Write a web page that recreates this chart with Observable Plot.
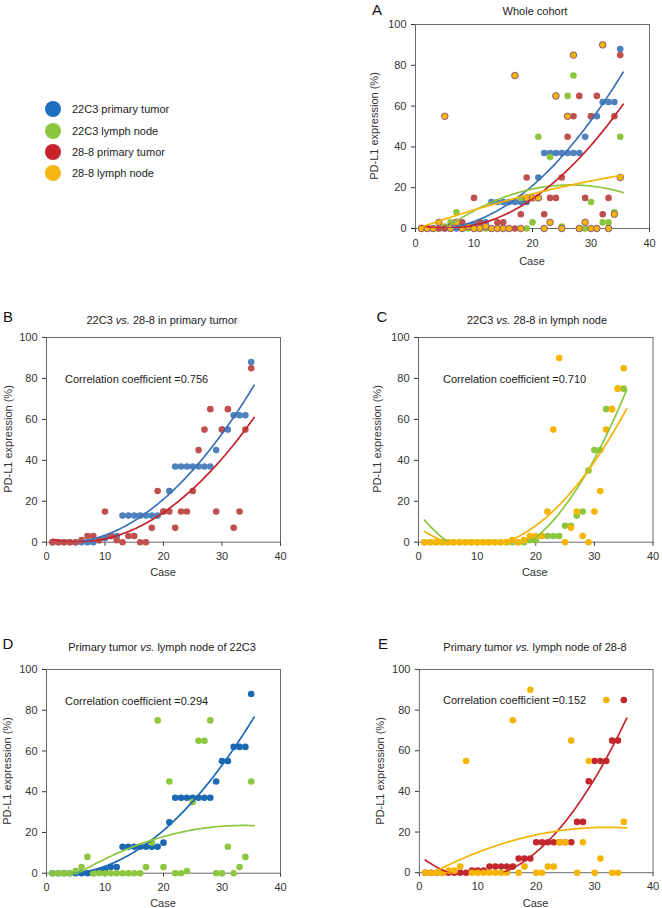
<!DOCTYPE html>
<html>
<head>
<meta charset="utf-8">
<script src="https://cdn.jsdelivr.net/npm/d3@7"></script>
<script src="https://cdn.jsdelivr.net/npm/@observablehq/plot@0.6"></script>
<style>
  body { margin: 0; background: #fff; }
  #wrap { position: relative; width: 662px; height: 908px; background: #fff; overflow: hidden;
          font-family: "Liberation Sans", Arial, Helvetica, sans-serif; color: #222; }
  .t { position: absolute; white-space: nowrap; line-height: 1; }
  .panel { position: absolute; }
</style>
</head>
<body>
<div id="wrap"></div>
<script>
// ---------------- data ----------------
const cases = [1,2,3,4,5,6,7,8,9,10,11,12,13,14,15,16,17,18,19,20,21,22,23,24,25,26,27,28,29,30,31,32,33,34,35];

// Panel A (whole cohort, cases ordered by 22C3 primary tumor)
const A_pt22C3 = [0,0,0,0,0,0,0,0,1,2,3,3,13,13,13,13,13,13,13,15,25,37,37,37,37,37,37,37,45,55,55,62,62,62,88];
const A_ln22C3 = [0,0,0,0,1,3,8,0,0,0,0,0,0,0,0,0,75,15,0,3,45,0,35,65,1,65,75,0,0,13,0,3,3,8,45];
const A_pt288  = [0,0,0,0,0,1,3,3,1,15,3,1,0,3,3,0,0,7,25,15,15,7,15,15,25,45,55,65,15,55,65,7,15,55,85];
const A_ln288  = [0,0,0,3,55,0,3,0,1,0,0,1,0,0,0,0,75,0,15,15,15,0,3,65,0,55,85,0,3,0,0,90,0,7,25];

// Panel B (22C3 vs 28-8 in primary tumor)
const B_22C3 = [0,0,0,0,0,0,0,0,1,2,3,3,13,13,13,13,13,13,13,15,25,37,37,37,37,37,37,37,45,55,55,62,62,62,88];
const B_288  = [0,0,0,0,0,1,3,3,1,15,3,1,0,3,3,0,0,7,25,15,15,7,15,15,25,45,55,65,15,55,65,7,15,55,85];

// Panel C (22C3 vs 28-8 in lymph node)
const C_22C3 = [0,0,0,0,0,0,0,0,0,0,0,0,0,0,0,0,0,0,1,1,3,3,3,3,8,8,13,15,35,45,45,65,65,75,75];
const C_288  = [0,0,0,0,0,0,0,0,0,0,0,0,0,0,0,1,0,1,3,3,3,15,55,90,0,7,15,3,0,15,25,55,65,75,85];

// Panel D (primary tumor vs lymph node of 22C3)
const D_pt = [0,0,0,0,0,0,0,0,1,2,3,3,13,13,13,13,13,13,13,15,25,37,37,37,37,37,37,37,45,55,55,62,62,62,88];
const D_ln = [0,0,0,0,1,3,8,0,0,0,0,0,0,0,0,0,3,15,75,3,45,0,0,1,35,65,65,75,0,0,13,0,3,8,45];

// Panel E (primary tumor vs lymph node of 28-8)
const E_pt = [0,0,0,0,0,0,0,0,1,1,1,3,3,3,3,3,7,7,7,15,15,15,15,15,15,15,25,25,45,55,55,55,65,65,85];
const E_ln = [0,0,0,0,1,1,3,55,0,0,0,0,0,0,0,75,0,3,90,0,0,3,3,15,15,65,0,15,55,0,7,85,0,0,25];

const xTicks = [0,10,20,30,40];
const yTicks = [0,20,40,60,80,100];

const legendItems = ["22C3 primary tumor","22C3 lymph node","28-8 primary tumor","28-8 lymph node"];
const legendColors = ["#1f6fbf","#8cc63f","#c8232b","#f6b512"];

// ---------------- helpers ----------------
const FONT = '"Liberation Sans", Arial, Helvetica, sans-serif';
const wrap = document.getElementById("wrap");

function quadFit(xs, ys) {
  let s = [0,0,0,0,0], t = [0,0,0];
  for (let i = 0; i < xs.length; i++) {
    const x = xs[i], y = ys[i];
    let p = 1;
    for (let k = 0; k <= 4; k++) { s[k] += p; if (k <= 2) t[k] += p * y; p *= x; }
  }
  const M = [[s[0],s[1],s[2]],[s[1],s[2],s[3]],[s[2],s[3],s[4]]];
  const det = m => m[0][0]*(m[1][1]*m[2][2]-m[1][2]*m[2][1]) - m[0][1]*(m[1][0]*m[2][2]-m[1][2]*m[2][0]) + m[0][2]*(m[1][0]*m[2][1]-m[1][1]*m[2][0]);
  const D = det(M);
  const coef = [0,1,2].map(j => det(M.map((row, r) => row.map((v, c) => c === j ? t[r] : v))) / D);
  return x => coef[0] + coef[1]*x + coef[2]*x*x;
}

function fitCurve(vals) {
  const f = quadFit(cases, vals);
  const pts = [];
  for (let x = 1; x <= 35.5001; x += 0.25) pts.push({x, y: f(x)});
  return pts;
}

function addText(html, x, y, opts = {}) {
  const d = document.createElement("div");
  d.className = "t";
  d.innerHTML = html;
  d.style.left = x + "px";
  d.style.top = y + "px";
  d.style.fontSize = (opts.size || 11) + "px";
  d.style.color = opts.color || "#222";
  let tr = opts.anchor === "start" ? "translate(0,-50%)" : "translate(-50%,-50%)";
  if (opts.rotate) tr += " rotate(-90deg)";
  d.style.transform = tr;
  wrap.appendChild(d);
}

function panel(cfg) {
  const ML = 50, MT = 10, MR = 10, MB = 40;
  const w = cfg.right - cfg.left, h = cfg.bottom - cfg.top;
  const marks = [Plot.frame({stroke: "#6a6a6a", strokeWidth: 1})];
  for (const s of cfg.series) {
    marks.push(Plot.dot(cases.map((c, i) => ({x: c, y: s.vals[i]})), {
      x: "x", y: "y", r: s.r || 3.3, fill: s.fill,
      stroke: s.outline || "none", strokeWidth: s.outline ? 1 : 0
    }));
  }
  for (const s of cfg.series) {
    marks.push(Plot.line(fitCurve(s.vals), {x: "x", y: "y", stroke: s.line, strokeWidth: 1.7, clip: true, curve: "linear"}));
  }
  const svg = Plot.plot({
    width: ML + w + MR, height: MT + h + MB,
    marginLeft: ML, marginTop: MT, marginRight: MR, marginBottom: MB,
    x: {domain: [0, 40], ticks: xTicks, tickSize: 4, tickPadding: cfg.xPad || 6, label: null},
    y: {domain: [0, 100], ticks: yTicks, tickSize: 4, tickPadding: 5, label: null},
    style: {fontFamily: FONT, fontSize: "11px", color: "#333", background: "transparent", overflow: "visible"},
    marks
  });
  const holder = document.createElement("div");
  holder.className = "panel";
  holder.style.left = (cfg.left - ML) + "px";
  holder.style.top = (cfg.top - MT) + "px";
  holder.appendChild(svg);
  wrap.appendChild(holder);

  addText(cfg.letter, cfg.letterX, cfg.letterY, {size: 15, color: "#111"});
  addText(cfg.title, cfg.titleX, cfg.titleY, {size: 11, color: "#222"});
  if (cfg.corr) addText(cfg.corr, cfg.corrX, cfg.corrY, {size: 11, anchor: "start", color: "#222"});
  addText("PD-L1 expression (%)", cfg.ylabX, (cfg.top + cfg.bottom) / 2, {size: 11, rotate: true, color: "#333"});
  addText("Case", (cfg.left + cfg.right) / 2, cfg.bottom + cfg.caseDy, {size: 11, color: "#333"});
}

// ---------------- panels ----------------
panel({
  left: 415, right: 649, top: 24.3, bottom: 228.3, xPad: 7,
  letter: "A", letterX: 377, letterY: 8.5,
  title: "Whole cohort", titleX: 535, titleY: 11,
  ylabX: 374, caseDy: 33,
  series: [
    {vals: A_pt22C3, fill: "#4f81bd", line: "#3a70b8"},
    {vals: A_ln22C3, fill: "#8cc63f", line: "#8cc63f"},
    {vals: A_pt288, fill: "#c0504d", line: "#c4242b"},
    {vals: A_ln288, fill: "#f5b400", line: "#f5b400", outline: "#8d5d86"}
  ]
});

panel({
  left: 46, right: 280, top: 336.7, bottom: 541.4,
  letter: "B", letterX: 8, letterY: 316,
  title: "22C3 <i>vs.</i> 28-8 in primary tumor", titleX: 162, titleY: 320,
  corr: "Correlation coefficient =0.756", corrX: 65, corrY: 379,
  ylabX: 8, caseDy: 31,
  series: [
    {vals: B_22C3, fill: "#4f81bd", line: "#3a70b8"},
    {vals: B_288, fill: "#c0504d", line: "#c4242b"}
  ]
});

panel({
  left: 417.5, right: 652, top: 336.7, bottom: 541.4,
  letter: "C", letterX: 382, letterY: 316,
  title: "22C3 <i>vs.</i> 28-8 in lymph node", titleX: 537, titleY: 320,
  corr: "Correlation coefficient =0.710", corrX: 443, corrY: 379,
  ylabX: 377, caseDy: 31,
  series: [
    {vals: C_22C3, fill: "#8cc63f", line: "#8cc63f"},
    {vals: C_288, fill: "#f7b500", line: "#f5b400"}
  ]
});

panel({
  left: 46, right: 280, top: 669, bottom: 872.7,
  letter: "D", letterX: 8, letterY: 643,
  title: "Primary tumor <i>vs.</i> lymph node of 22C3", titleX: 162, titleY: 647,
  corr: "Correlation coefficient =0.294", corrX: 65, corrY: 701,
  ylabX: 7, caseDy: 30,
  series: [
    {vals: D_pt, fill: "#1b68b3", line: "#1b68b3"},
    {vals: D_ln, fill: "#8dc63f", line: "#8dc63f"}
  ]
});

panel({
  left: 418.5, right: 652.7, top: 669, bottom: 872.7,
  letter: "E", letterX: 383, letterY: 643,
  title: "Primary tumor <i>vs.</i> lymph node of 28-8", titleX: 535, titleY: 647,
  corr: "Correlation coefficient =0.152", corrX: 443, corrY: 700,
  ylabX: 380, caseDy: 30,
  series: [
    {vals: E_pt, fill: "#c1272d", line: "#c1272d"},
    {vals: E_ln, fill: "#f5b400", line: "#f5b400"}
  ]
});

// ---------------- legend ----------------
legendItems.forEach((name, i) => {
  const y = [108.5, 130.5, 151.5, 172.5][i];
  const c = document.createElement("div");
  c.style.cssText = `position:absolute;left:45px;top:${y - 8}px;width:16px;height:16px;border-radius:50%;background:${legendColors[i]};`;
  wrap.appendChild(c);
  addText(name, 72, y, {size: 11, anchor: "start", color: "#222"});
});
</script>
</body>
</html>
